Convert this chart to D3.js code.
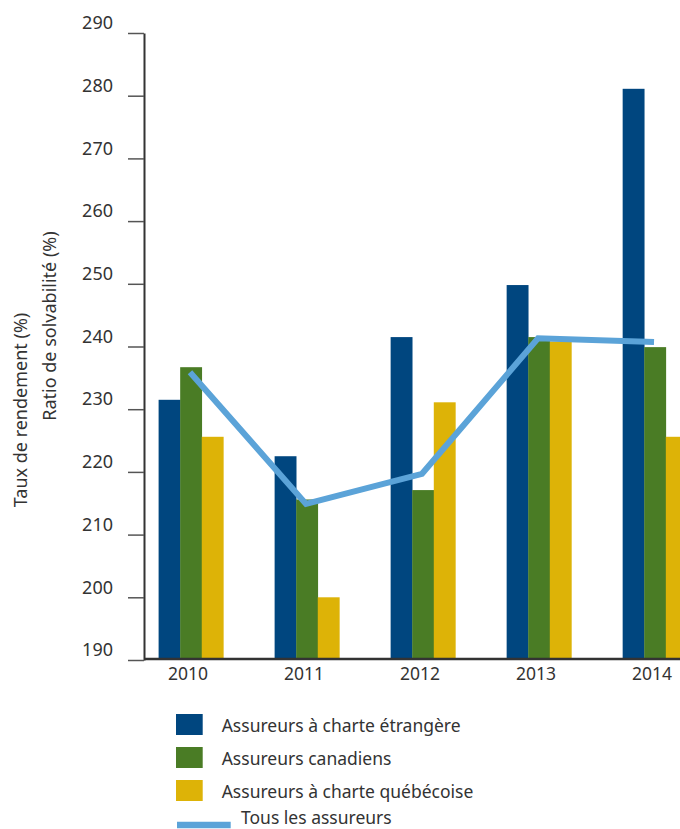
<!DOCTYPE html>
<html>
<head>
<meta charset="utf-8">
<script src="https://cdn.jsdelivr.net/npm/d3@7"></script>
<style>
  html, body { margin: 0; padding: 0; background: #fff; }
  svg { display: block; }
  text { font-family: "Noto Sans", "Open Sans", sans-serif; fill: #333; }
</style>
</head>
<body>
<svg id="chart" width="680" height="829"></svg>
<script>
const years = ["2010", "2011", "2012", "2013", "2014"];
const seriesNames = ["Assureurs à charte étrangère", "Assureurs canadiens", "Assureurs à charte québécoise"];
const etrangere = [231.5, 222.5, 241.5, 249.8, 281.1];
const canadiens = [236.7, 215.6, 217.1, 241.5, 239.9];
const quebecoise = [225.6, 200.0, 231.1, 240.8, 225.6];
const tousLesAssureurs = [235.9, 214.9, 219.7, 241.3, 240.7];
const lineName = "Tous les assureurs";
const yTicks = [190, 200, 210, 220, 230, 240, 250, 260, 270, 280, 290];
const yTitles = ["Taux de rendement (%)", "Ratio de solvabilité (%)"];
const colors = ["#00467F", "#4A7C25", "#DDB307"];
const lineColor = "#5BA3D8";

const barSeries = [etrangere, canadiens, quebecoise];

const svg = d3.select("#chart");

const y = d3.scaleLinear().domain([190, 290]).range([660, 33]);
const x = d3.scaleBand().domain(years).range([147, 699]).paddingInner(0.442).paddingOuter(0.1);
const xs = d3.scaleBand().domain(d3.range(seriesNames.length)).range([0, x.bandwidth()]);

// bars
const groups = svg.append("g").selectAll("g")
  .data(years).join("g")
  .attr("transform", d => `translate(${x(d)},0)`);
groups.selectAll("rect")
  .data((d, i) => barSeries.map((s, k) => ({k, v: s[i]})))
  .join("rect")
  .attr("x", d => xs(d.k))
  .attr("width", xs.bandwidth() + 0.3)
  .attr("y", d => y(d.v))
  .attr("height", d => y(190) - y(d.v))
  .attr("fill", d => colors[d.k]);

// line
const line = d3.line()
  .x((d, i) => x(years[i]) + x.bandwidth() / 2 - 1)
  .y(d => y(d));
svg.append("path")
  .datum(tousLesAssureurs)
  .attr("d", line)
  .attr("fill", "none")
  .attr("stroke", lineColor)
  .attr("stroke-width", 6)
  .attr("stroke-linejoin", "miter");

// y axis
const yAxis = d3.axisLeft(y).tickValues(yTicks).tickSize(16).tickSizeOuter(0).tickPadding(15).tickFormat(d3.format("d"));
const gy = svg.append("g").attr("transform", "translate(144,0)").call(yAxis);
gy.select(".domain").attr("stroke", "#333").attr("stroke-width", 2);
gy.selectAll(".tick line").attr("stroke", "#555").attr("stroke-width", 1.5);
gy.selectAll(".tick text")
  .attr("y", -10)
  .style("font-size", "18px")
  .style("font-family", "'Noto Sans', sans-serif")
  .attr("fill", "#333");

// x axis
const xAxis = d3.axisBottom(x).tickSize(0).tickPadding(9);
const gx = svg.append("g").attr("transform", "translate(0,659)").call(xAxis);
gx.select(".domain").attr("d", "M144,0H680").attr("stroke", "#333").attr("stroke-width", 2.5);
gx.selectAll(".tick text")
  .attr("x", -3)
  .style("font-size", "17.5px")
  .style("font-family", "'Noto Sans', sans-serif")
  .attr("fill", "#333");

// y titles
const titleX = [27, 56];
const titleY = [410, 326];
yTitles.forEach((t, i) => {
  svg.append("text")
    .attr("transform", `translate(${titleX[i]},${titleY[i]}) rotate(-90)`)
    .attr("text-anchor", "middle")
    .style("font-size", "18px")
    .text(t);
});

// legend
const legend = svg.append("g").attr("transform", "translate(176,714)");
seriesNames.forEach((n, i) => {
  const g = legend.append("g").attr("transform", `translate(0,${i * 33})`);
  g.append("rect").attr("width", 26.7).attr("height", 21).attr("fill", colors[i]);
  g.append("text").attr("x", 45.7).attr("y", 17.7).style("font-size", "17.5px").text(n);
});
const lg = legend.append("g").attr("transform", `translate(0,${3 * 33})`);
lg.append("line").attr("x1", 1).attr("x2", 54.7).attr("y1", 12).attr("y2", 12)
  .attr("stroke", lineColor).attr("stroke-width", 6.5);
lg.append("text").attr("x", 65).attr("y", 11).style("font-size", "17.5px").text(lineName);
</script>
</body>
</html>
